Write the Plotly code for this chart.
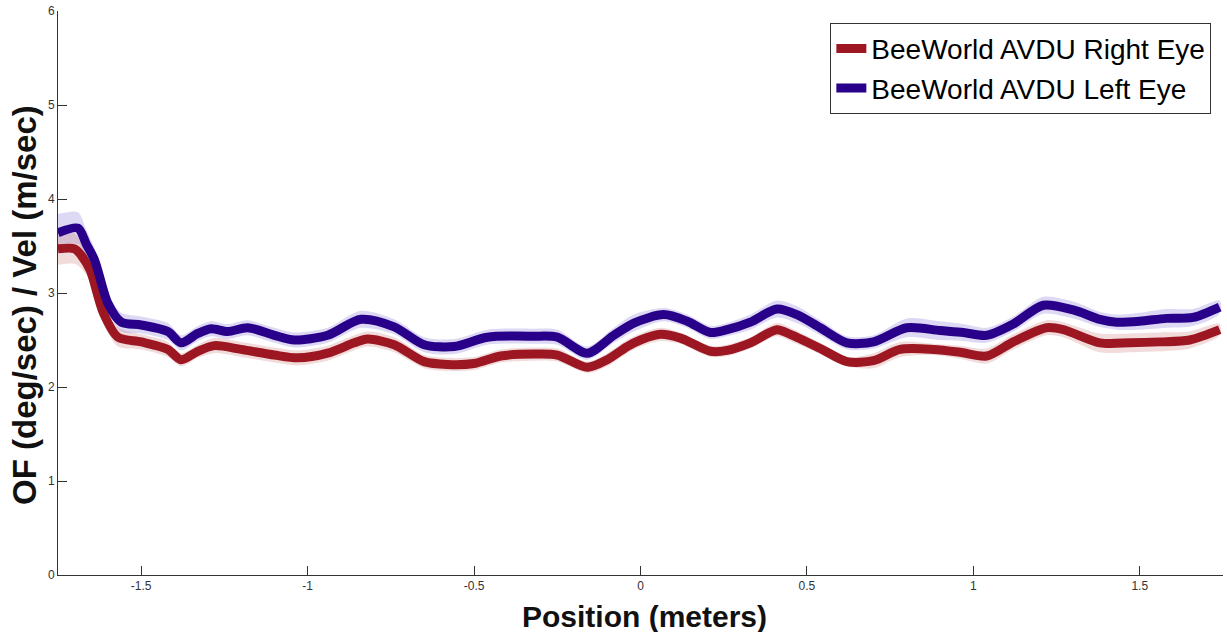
import plotly.graph_objects as go

# Right eye (red)
right_x = [-1.75, -1.70, -1.68, -1.653, -1.614, -1.57, -1.50, -1.42, -1.38, -1.33, -1.28, -1.20, -1.10, -1.03,
           -0.94, -0.86, -0.82, -0.74, -0.65, -0.58, -0.50, -0.42, -0.32, -0.25, -0.16, -0.10, -0.04,
           0.00, 0.06, 0.12, 0.21, 0.26, 0.33, 0.41, 0.45, 0.54, 0.62, 0.70, 0.78, 0.88, 0.96, 1.04,
           1.12, 1.22, 1.27, 1.38, 1.47, 1.56, 1.65, 1.74]
right_y = [3.47, 3.47, 3.40, 3.24, 2.79, 2.53, 2.48, 2.40, 2.29, 2.38, 2.44, 2.40, 2.34, 2.31,
           2.36, 2.47, 2.51, 2.45, 2.27, 2.24, 2.25, 2.33, 2.35, 2.34, 2.21, 2.29, 2.43,
           2.50, 2.56, 2.52, 2.38, 2.39, 2.47, 2.61, 2.56, 2.41, 2.27, 2.28, 2.40, 2.40, 2.37, 2.33,
           2.48, 2.63, 2.61, 2.47, 2.47, 2.48, 2.50, 2.61]
right_err = [0.17, 0.16, 0.14, 0.12, 0.10, 0.10, 0.08, 0.08, 0.07, 0.07, 0.08, 0.08, 0.08, 0.08,
             0.08, 0.08, 0.08, 0.08, 0.07, 0.07, 0.07, 0.07, 0.07, 0.07, 0.06, 0.07, 0.07,
             0.07, 0.07, 0.06, 0.06, 0.06, 0.06, 0.07, 0.07, 0.06, 0.05, 0.08, 0.08, 0.06, 0.07, 0.08,
             0.08, 0.08, 0.08, 0.10, 0.10, 0.10, 0.09, 0.06]

# Left eye (blue)
left_x = [-1.75, -1.69, -1.665, -1.64, -1.60, -1.56, -1.50, -1.42, -1.38, -1.33, -1.29, -1.24, -1.18,
          -1.10, -1.04, -0.94, -0.84, -0.74, -0.65, -0.56, -0.46, -0.32, -0.25, -0.16, -0.08,
          -0.02, 0.07, 0.14, 0.21, 0.26, 0.33, 0.41, 0.47, 0.54, 0.62, 0.70, 0.80, 0.90, 0.97, 1.04,
          1.12, 1.21, 1.30, 1.38, 1.43, 1.50, 1.58, 1.66, 1.74]
left_y = [3.64, 3.69, 3.52, 3.35, 2.89, 2.69, 2.66, 2.59, 2.47, 2.57, 2.62, 2.59, 2.63,
          2.55, 2.50, 2.55, 2.72, 2.64, 2.45, 2.43, 2.53, 2.54, 2.53, 2.36, 2.55,
          2.68, 2.77, 2.70, 2.58, 2.61, 2.69, 2.83, 2.77, 2.63, 2.47, 2.48, 2.63, 2.60, 2.58, 2.55,
          2.67, 2.87, 2.82, 2.72, 2.69, 2.70, 2.73, 2.74, 2.85]
left_err = [0.20, 0.17, 0.15, 0.12, 0.10, 0.10, 0.09, 0.09, 0.08, 0.08, 0.08, 0.08, 0.08,
            0.08, 0.08, 0.08, 0.09, 0.08, 0.08, 0.08, 0.08, 0.08, 0.08, 0.07, 0.08,
            0.09, 0.07, 0.07, 0.07, 0.07, 0.08, 0.09, 0.09, 0.08, 0.07, 0.07, 0.10, 0.10, 0.09, 0.08,
            0.08, 0.09, 0.09, 0.08, 0.08, 0.09, 0.10, 0.09, 0.07]

x_ticks = [-1.5, -1, -0.5, 0, 0.5, 1, 1.5]
x_tick_labels = ["-1.5", "-1", "-0.5", "0", "0.5", "1", "1.5"]
y_ticks = [0, 1, 2, 3, 4, 5, 6]
y_tick_labels = ["0", "1", "2", "3", "4", "5", "6"]

RED = "#9c1722"
BLUE = "#290089"

fig = go.Figure()


def band(xs, ys, es, fillcolor):
    upper = [y + e for y, e in zip(ys, es)]
    lower = [y - e for y, e in zip(ys, es)]
    return go.Scatter(x=xs + xs[::-1], y=upper + lower[::-1], fill="toself",
                      fillcolor=fillcolor, line=dict(width=0, shape="spline", smoothing=0.8),
                      mode="lines", hoverinfo="skip", showlegend=False)


fig.add_trace(band(left_x, left_y, left_err, "rgba(120,100,210,0.25)"))
fig.add_trace(band(right_x, right_y, right_err, "rgba(200,110,110,0.25)"))

fig.add_trace(go.Scatter(x=right_x, y=right_y, mode="lines", name="BeeWorld AVDU Right Eye",
                         line=dict(color=RED, width=9, shape="spline", smoothing=0.8)))
fig.add_trace(go.Scatter(x=left_x, y=left_y, mode="lines", name="BeeWorld AVDU Left Eye",
                         line=dict(color=BLUE, width=9, shape="spline", smoothing=0.8)))

fig.update_layout(
    width=1227, height=632,
    margin=dict(l=58, r=4, t=11, b=57),
    paper_bgcolor="white", plot_bgcolor="white",
    font=dict(family="Liberation Sans, Arial, sans-serif", color="#000"),
    legend=dict(x=0.99, y=0.979, xanchor="right", yanchor="top",
                bordercolor="#333", borderwidth=1, bgcolor="white",
                font=dict(size=28, color="#000"), itemwidth=30,
                tracegroupgap=0),
    showlegend=True,
    annotations=[
        dict(text="<b>Position (meters)</b>", xref="paper", yref="paper",
             x=(644 - 58) / 1165, y=(575 - 616) / 564, xanchor="center", yanchor="middle",
             showarrow=False, font=dict(size=30, color="#111")),
        dict(text="<b>OF (deg/sec) / Vel (m/sec)</b>", xref="paper", yref="paper",
             x=(25 - 58) / 1165, y=(575 - 305) / 564, xanchor="center", yanchor="middle",
             textangle=-90, showarrow=False, font=dict(size=33, color="#111")),
    ],
)
fig.update_xaxes(range=[-1.75, 1.75], tickvals=x_ticks, ticktext=x_tick_labels,
                 ticks="inside", ticklen=9, tickcolor="#333", showline=True, linecolor="#333",
                 linewidth=1, showgrid=False, zeroline=False,
                 tickfont=dict(size=12, color="#333"))
fig.update_yaxes(range=[0, 6], tickvals=y_ticks, ticktext=y_tick_labels,
                 ticks="inside", ticklen=9, tickcolor="#333", showline=True, linecolor="#333",
                 linewidth=1, showgrid=False, zeroline=False,
                 tickfont=dict(size=12, color="#333"))

fig.write_html("out.html")
